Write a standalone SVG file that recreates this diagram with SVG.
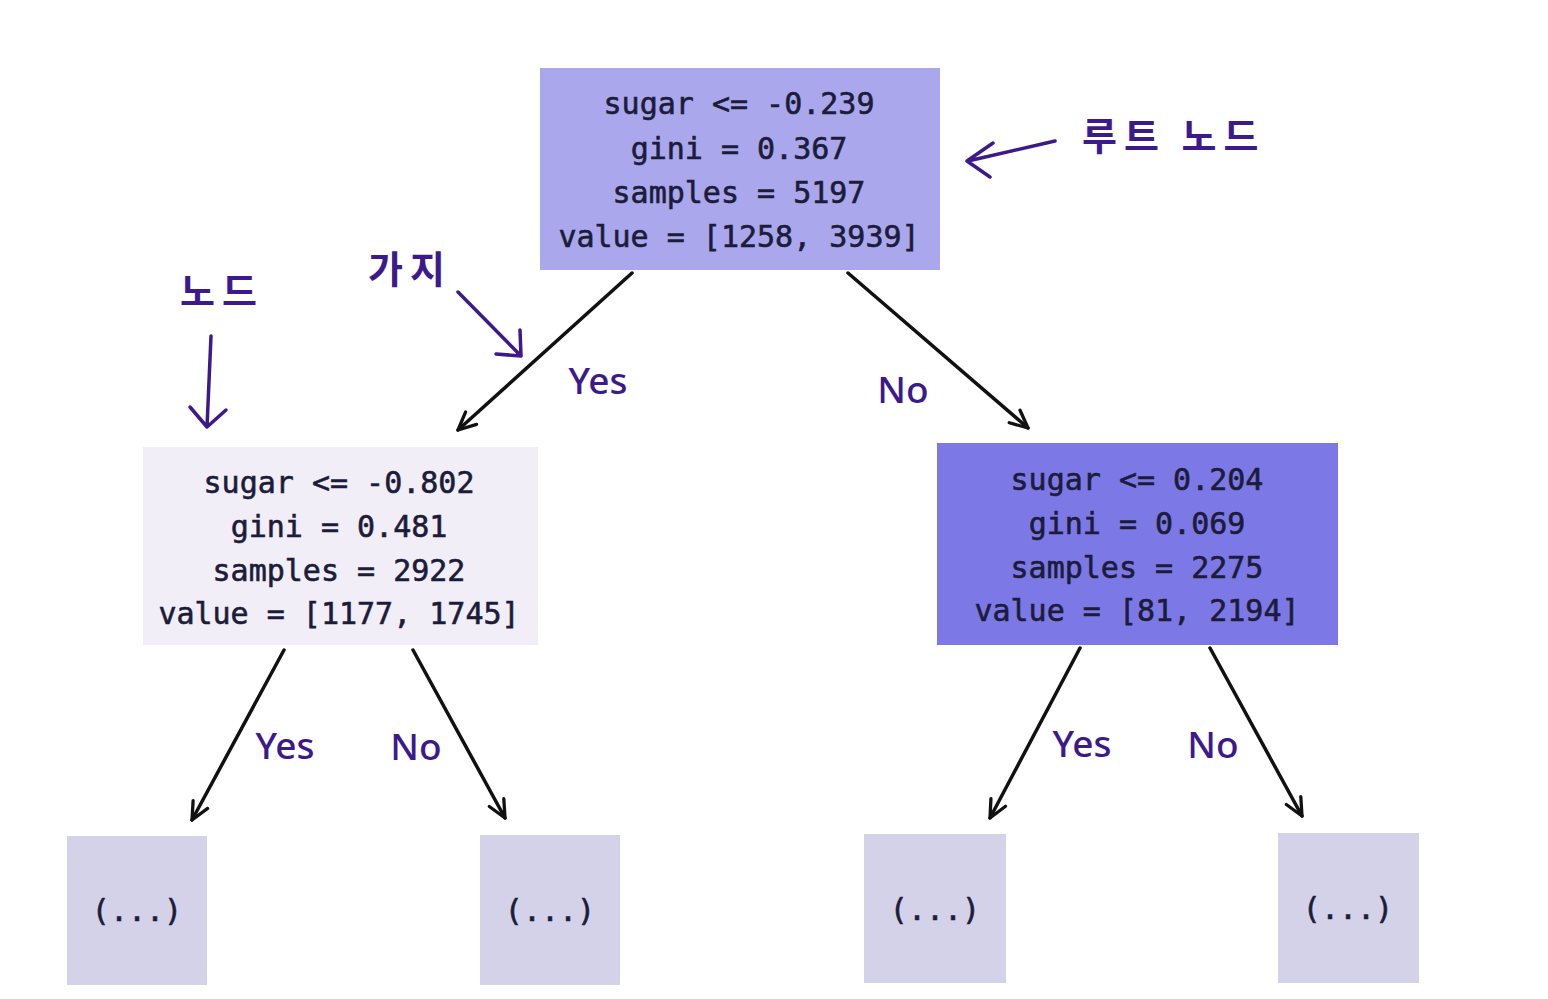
<svg xmlns="http://www.w3.org/2000/svg" width="1548" height="999" viewBox="0 0 1548 999">
<style>
.nt{font-family:"DejaVu Sans Mono","Liberation Mono",monospace;font-size:30px;fill:#1c1c3a;stroke:#1c1c3a;stroke-width:0.6px;text-anchor:middle}
.lbl{font-family:"Noto Sans","Liberation Sans",sans-serif;font-size:37px;font-weight:500;fill:#3d1a8c;text-anchor:middle}
.kr{font-family:"Noto Sans CJK KR",sans-serif;font-size:38px;font-weight:bold;fill:#3d1a8c;letter-spacing:7px}
.edge{stroke:#111;stroke-width:3.5;fill:none;stroke-linecap:round}
.ann{stroke:#3d1a8c;stroke-width:3.5;fill:none;stroke-linecap:round;stroke-linejoin:round}
.leaf{fill:#d3d2e9}
</style>
<defs>
<marker id="ah" viewBox="0 0 20 20" refX="18" refY="10" markerWidth="22" markerHeight="22" markerUnits="userSpaceOnUse" orient="auto">
<path d="M2,2.5 L18,10 L2,17.5" fill="none" stroke="#111" stroke-width="3" stroke-linecap="round" stroke-linejoin="round"/>
</marker>
</defs>
<rect width="1548" height="999" fill="#ffffff"/>

<g id="root">
<rect x="540" y="68" width="400" height="202" fill="#aaa7ec"/>
<text class="nt" x="739" y="114">sugar &lt;= -0.239</text>
<text class="nt" x="739" y="159">gini = 0.367</text>
<text class="nt" x="739" y="203">samples = 5197</text>
<text class="nt" x="739" y="247">value = [1258, 3939]</text>
</g>

<g id="left">
<rect x="143" y="447" width="395" height="198" fill="#f1eef7"/>
<text class="nt" x="339" y="493">sugar &lt;= -0.802</text>
<text class="nt" x="339" y="537">gini = 0.481</text>
<text class="nt" x="339" y="581">samples = 2922</text>
<text class="nt" x="339" y="624">value = [1177, 1745]</text>
</g>

<g id="right">
<rect x="937" y="443" width="401" height="202" fill="#7c79e6"/>
<text class="nt" x="1137" y="490">sugar &lt;= 0.204</text>
<text class="nt" x="1137" y="534">gini = 0.069</text>
<text class="nt" x="1137" y="578">samples = 2275</text>
<text class="nt" x="1137" y="621">value = [81, 2194]</text>
</g>

<g id="leaf1"><rect class="leaf" x="67" y="836" width="140" height="149"/><text class="nt" x="137" y="921">(...)</text></g>
<g id="leaf2"><rect class="leaf" x="480" y="835" width="140" height="150"/><text class="nt" x="550" y="921">(...)</text></g>
<g id="leaf3"><rect class="leaf" x="864" y="834" width="142" height="149"/><text class="nt" x="935" y="920">(...)</text></g>
<g id="leaf4"><rect class="leaf" x="1278" y="833" width="141" height="150"/><text class="nt" x="1348" y="919">(...)</text></g>

<g id="connectors">
<line class="edge" x1="632" y1="273" x2="458" y2="430" marker-end="url(#ah)"/>
<line class="edge" x1="848" y1="273" x2="1028" y2="428" marker-end="url(#ah)"/>
<line class="edge" x1="284" y1="650" x2="192" y2="820" marker-end="url(#ah)"/>
<line class="edge" x1="413" y1="650" x2="505" y2="818" marker-end="url(#ah)"/>
<line class="edge" x1="1080" y1="648" x2="990" y2="818" marker-end="url(#ah)"/>
<line class="edge" x1="1210" y1="648" x2="1302" y2="816" marker-end="url(#ah)"/>
<text class="lbl" x="598" y="394">Yes</text>
<text class="lbl" x="903" y="403">No</text>
<text class="lbl" x="285" y="759">Yes</text>
<text class="lbl" x="416" y="760">No</text>
<text class="lbl" x="1082" y="757">Yes</text>
<text class="lbl" x="1213" y="758">No</text>
</g>

<g id="annotations">
<text class="kr" x="1082" y="150">루트 노드</text>
<path class="ann" d="M1055,141 L968,161 M993,143 L967,161 L990,177"/>
<text class="kr" x="368" y="283">가지</text>
<path class="ann" d="M458,292 L521,356 M520,330 L521,356 L496,354"/>
<text class="kr" x="180" y="305">노드</text>
<path class="ann" d="M211,336 L207,427 M190,407 L207,427 L226,410"/>
</g>
</svg>
